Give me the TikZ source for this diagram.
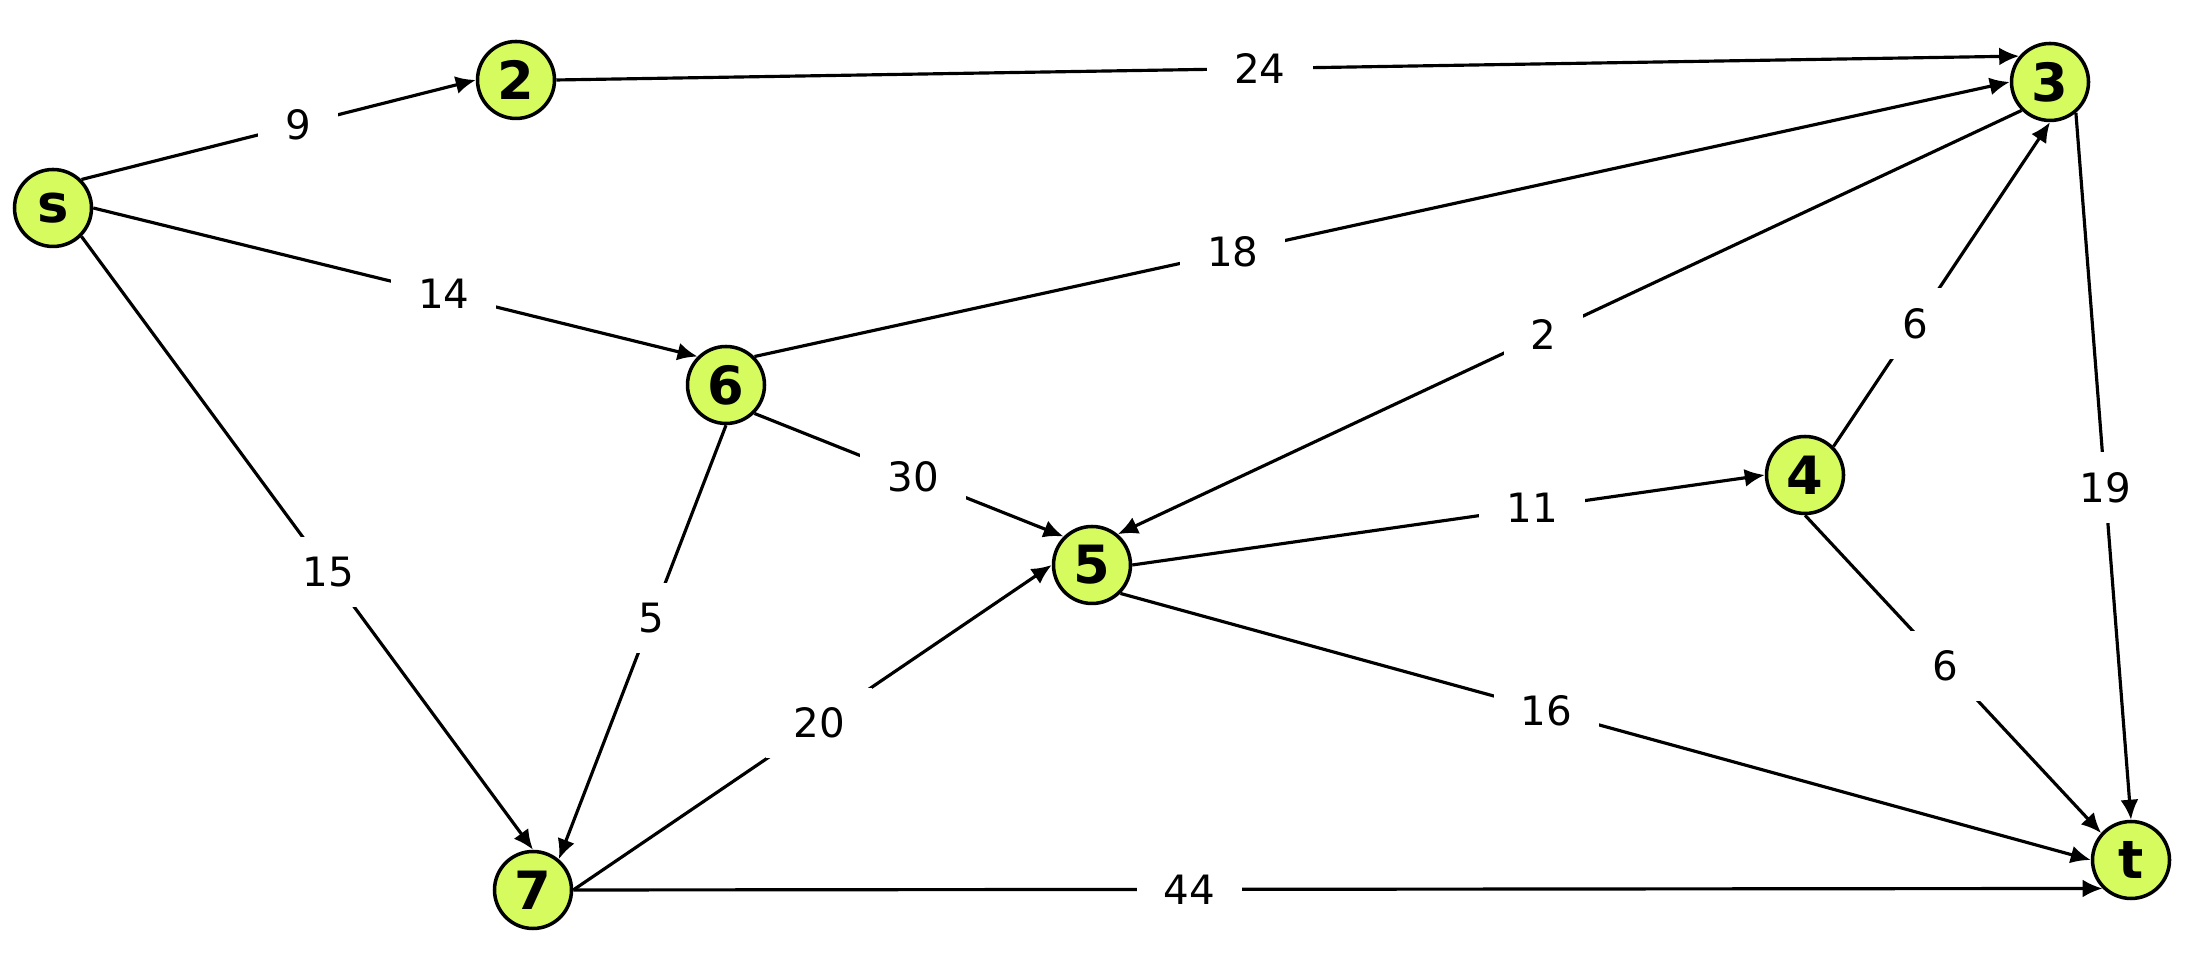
\documentclass[tikz,border=0pt]{standalone}
\usepackage{fontspec}
\setmainfont{DejaVu Sans}
\usetikzlibrary{arrows.meta}
\definecolor{nodegreen}{RGB}{214,251,94}

\begin{document}
\begin{tikzpicture}
    [vertex/.style={circle,draw=black,line width=1pt,fill=nodegreen,minimum size=0.77cm,inner sep=0pt,font=\fontsize{15}{18}\selectfont\bfseries},
    edge/.style={-{Latex[length=2mm,width=1.8mm]},black,line width=0.9pt},
    weight/.style={fill=white,inner xsep=0.27cm,inner ysep=0.2cm,font=\fontsize{11.5}{13}\selectfont}]

\useasboundingbox (0,0) rectangle (22,9.56);

%draw vertices
\node[vertex] (s) at (0.53,7.48) {s};
\node[vertex] (v2) at (5.16,8.76) {2};
\node[vertex] (v3) at (20.50,8.74) {3};
\node[vertex] (v6) at (7.26,5.71) {6};
\node[vertex] (v5) at (10.92,3.91) {5};
\node[vertex] (v4) at (18.05,4.81) {4};
\node[vertex] (v7) at (5.33,0.66) {7};
\node[vertex] (t) at (21.31,0.96) {t};

%draw edges with capacities
\draw[edge] (s.45) -- node[weight,pos=0.55] {9} (v2.west);
\draw[edge] (s.east) -- node[weight,pos=0.58] {14} (v6.135);
\draw[edge] (s.-45) -- node[weight,pos=0.547] {15} (v7.north);
\draw[edge] (v2.east) -- node[weight,pos=0.481] {24} (v3.140);
\draw[edge] (v6.45) -- node[weight,pos=0.381] {18} (v3.west);
\draw[edge] (v3.225) -- node[weight,pos=0.529] {2} (v5.50);
\draw[edge] (v4.45) -- node[weight,pos=0.38] {6} (v3.south);
\draw[edge] (v3.-50) -- node[weight,pos=0.53] {19} (t.north);
\draw[edge] (v6.-45) -- node[weight,pos=0.513] {30} (v5.135);
\draw[edge] (v6.south) -- node[weight,pos=0.444] {5} (v7.50);
\draw[edge] (v7.east) -- node[weight,pos=0.514] {20} (v5.west);
\draw[edge] (v5.east) -- node[weight,pos=0.632] {11} (v4.west);
\draw[edge] (v5.-45) -- node[weight,pos=0.439] {16} (t.west);
\draw[edge] (v4.south) -- node[weight,pos=0.475] {6} (t.138);
\draw[edge] (v7.east) -- node[weight,pos=0.403] {44} (t.225);

\end{tikzpicture}
\end{document}
